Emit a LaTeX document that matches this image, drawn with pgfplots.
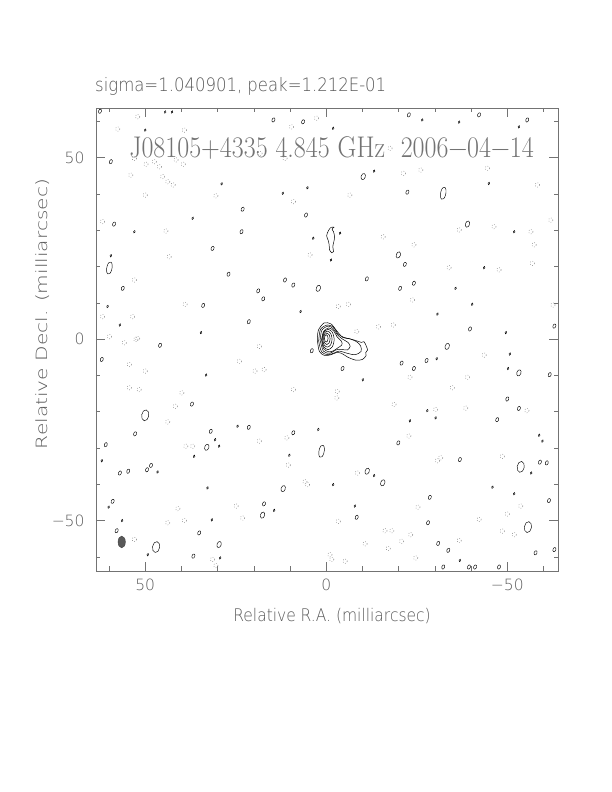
\documentclass[border=0pt]{standalone}
\usepackage{pgfplots}
\pgfplotsset{compat=1.18}
\usepackage{graphicx}
\usepackage{fontspec}
\newfontfamily\sans{DejaVu Sans ExtraLight}
\definecolor{txtgray}{rgb}{0.35,0.35,0.35}
\definecolor{ttlgray}{rgb}{0.45,0.45,0.45}
\definecolor{axgray}{rgb}{0.45,0.45,0.45}
\pgfdeclareplotmark{ell}{%
  \pgfpathellipse{\pgfpointorigin}{\pgfpoint{0.65\pgfplotmarksize}{0pt}}{\pgfpoint{0pt}{\pgfplotmarksize}}%
  \pgfusepathqstroke}
\pgfdeclareplotmark{fell}{%
  \pgfpathellipse{\pgfpointorigin}{\pgfpoint{0.62\pgfplotmarksize}{0pt}}{\pgfpoint{0pt}{\pgfplotmarksize}}%
  \pgfusepathqfillstroke}
\begin{document}
\begin{tikzpicture}
\useasboundingbox (0,0) rectangle (612pt,792pt);
\begin{axis}[
  at={(96pt,221pt)}, anchor=south west,
  scale only axis, width=462pt, height=463pt,
  x dir=reverse, xmin=-64.0, xmax=63.6, ymin=-63.9, ymax=63.7,
  xtick={-50,0,50}, xticklabels={−50,0,50},
  ytick={-50,0,50}, yticklabels={−50,0,50},
  minor xtick={-60,-40,-30,-20,-10,10,20,30,40,60},
  minor ytick={-60,-40,-30,-20,-10,10,20,30,40,60},
  major tick length=9pt, minor tick length=4.5pt,
  tick align=inside,
  axis line style={draw=axgray, line width=0.6pt},
  tick style={draw=axgray, line width=0.6pt},
  ticklabel style={font=\sans\fontsize{15.5}{18}\selectfont, text=txtgray},
  xticklabel style={yshift=-4pt},
  yticklabel style={xshift=-8pt},
  clip=true,
]
% ---- core + jet contours
\addplot[black, line width=0.5pt, smooth] coordinates {(2.45,-0.5)(2.2,2.4)(0.6,4.45)(-1.3,4.2)(-2.8,2.4)(-4.5,0.5)(-6.4,0.1)(-8.2,-0.4)(-9.7,-0.9)(-10.4,-0.7)(-11.0,-1.8)(-11.4,-3.0)(-10.9,-3.7)(-11.0,-4.5)(-10.0,-5.6)(-8.2,-5.8)(-6.0,-5.0)(-4.2,-3.9)(-2.8,-3.7)(-1.3,-4.3)(0.5,-4.5)(1.9,-3.4)(2.45,-0.5)};
\addplot[black, line width=0.5pt, smooth] coordinates {(2.1,-0.5)(1.6,2.7)(-0.3,3.9)(-2.0,3.3)(-3.2,1.5)(-4.8,0.5)(-6.8,0.0)(-8.5,-0.8)(-9.5,-1.9)(-9.6,-3.4)(-8.0,-4.3)(-5.8,-3.9)(-3.6,-3.3)(-2.2,-3.8)(-0.5,-4.3)(1.3,-3.5)(2.1,-0.5)};
\addplot[black, line width=0.5pt, smooth] coordinates {(1.7,-0.3)(1.2,2.5)(-0.6,3.6)(-2.0,2.8)(-3.0,1.3)(-4.5,0.0)(-6.0,-0.9)(-6.6,-2.0)(-5.8,-3.0)(-4.0,-2.8)(-2.6,-3.0)(-1.0,-3.9)(0.8,-3.3)(1.7,-0.3)};
\addplot[black, line width=0.5pt, smooth] coordinates {(1.3,-0.2)(0.75,2.1)(-0.7,3.1)(-2.1,2.2)(-3.0,0.6)(-4.2,-0.6)(-4.3,-1.6)(-3.2,-2.4)(-2.0,-3.2)(-0.7,-3.5)(0.75,-2.6)(1.3,-0.2)};
\addplot[black, line width=0.5pt, smooth] coordinates {(1.2,-0.1)(0.7,1.88)(-0.5,2.7)(-1.7,1.88)(-2.2,-0.1)(-1.7,-2.08)(-0.5,-2.9)(0.7,-2.08)(1.2,-0.1)};
\addplot[black, line width=0.5pt, smooth] coordinates {(1.0,0)(0.62,1.56)(-0.3,2.2)(-1.22,1.56)(-1.6,0)(-1.22,-1.56)(-0.3,-2.2)(0.62,-1.56)(1.0,0)};
\addplot[black, line width=0.5pt, smooth] coordinates {(0.75,0.1)(0.49,1.23)(-0.15,1.7)(-0.79,1.23)(-1.05,0.1)(-0.79,-1.03)(-0.15,-1.5)(0.49,-1.03)(0.75,0.1)};
\addplot[black, line width=0.5pt, smooth] coordinates {(0.5,0.2)(0.35,0.91)(0,1.2)(-0.35,0.91)(-0.5,0.2)(-0.35,-0.51)(0,-0.8)(0.35,-0.51)(0.5,0.2)};
% ---- S-shaped feature north of core
\addplot[black, line width=0.5pt, smooth] coordinates {(-2.2,30.9)(-1.3,30.8)(-0.6,29.9)(-0.1,28.5)(-0.5,27.3)(-0.8,26.0)(-0.9,24.6)(-1.5,23.8)(-2.0,24.1)(-1.8,25.5)(-2.1,26.9)(-2.3,28.2)(-2.0,29.6)(-1.6,30.3)(-2.2,30.9)};
% ---- positive noise contours
\addplot[only marks, black, line width=0.45pt, mark=ell, mark size=1.3pt, mark options={rotate=-20}] coordinates {
(50.0,57.6)(28.9,42.8)(36.9,33.3)(53.0,29.6)(59.5,23.0)(60.4,9.0)(57.0,3.9)(34.6,1.8)(44.5,62.6)(42.6,62.6)(-1.9,58.1)(-13.2,46.3)(5.2,41.7)(12.0,40.2)(-3.8,29.2)(3.6,27.8)(-1.3,21.8)(7.1,7.6)(-26.5,60.4)(-36.7,59.8)(-53.2,58.5)(-51.9,29.6)(-43.6,19.7)(-49.6,1.8)(-44.9,42.9)(-40.3,9.6)(-35.7,14.0)(-30.7,6.9)(33.2,-9.9)(24.5,-24.0)(30.7,-27.7)(29.6,-29.5)(62.0,-33.5)(36.5,-32.3)(46.6,-36.6)(32.8,-41.0)(60.1,-46.3)(56.4,-50.0)(31.6,-49.8)(29.3,-60.3)(49.3,-59.4)(-10.1,-11.2)(2.2,-24.9)(10.2,-32.0)(-13.2,-37.6)(-1.9,-40.1)(14.4,-47.2)(-7.9,-46.0)(-30.5,-5.4)(-50.7,-4.1)(-50.2,-8.1)(-27.9,-19.7)(-30.2,-21.7)(-23.1,-22.5)(-59.7,-28.1)(-58.8,-26.5)(-56.6,-36.9)(-51.9,-42.6)(-45.9,-40.8)(-36.9,-61.0)};
\addplot[only marks, black, line width=0.45pt, mark=ell, mark size=2.2pt, mark options={rotate=-20}] coordinates {
(62.5,62.8)(59.5,48.9)(23.1,35.8)(58.6,31.7)(23.4,29.6)(31.4,25.0)(27.0,17.9)(34.0,9.3)(21.4,4.8)(56.2,14.0)(14.6,60.4)(6.4,59.9)(5.6,34.2)(-21.7,20.6)(11.4,16.3)(9.1,14.9)(-11.2,16.6)(-20.4,14.0)(18.8,13.3)(17.4,11.1)(-22.8,61.8)(-42.2,61.8)(-55.5,60.4)(-22.4,40.5)(-24.2,15.4)(-39.7,2.8)(-63.0,3.6)(45.9,-1.7)(62.0,-5.6)(37.1,-17.9)(52.8,-26.1)(31.9,-25.4)(21.4,-24.3)(60.9,-29.1)(57.0,-36.9)(54.7,-36.4)(49.5,-36.0)(48.4,-34.8)(59.0,-44.7)(57.9,-52.8)(35.1,-53.4)(36.7,-59.8)(4.0,-3.2)(-4.5,-8.1)(-20.8,-6.6)(9.1,-25.8)(-19.9,-28.6)(17.2,-45.4)(-8.4,-49.1)(-27.7,-5.9)(-24.2,-8.1)(-61.7,-9.8)(-50.0,-16.5)(-53.2,-19.1)(-47.2,-22.2)(-36.9,-33.2)(-59.0,-33.9)(-60.9,-34.1)(-28.6,-43.6)(-61.5,-44.5)(-28.1,-50.6)(-30.9,-56.3)(-33.7,-58.2)(-57.8,-58.9)(-63.0,-58.0)(-32.3,-62.8)(-39.4,-62.8)(-41.1,-62.8)(-47.7,-62.8)};
\addplot[only marks, black, line width=0.45pt, mark=ell, mark size=3.2pt, mark options={rotate=-20}] coordinates {
(-10.2,44.8)(-19.9,23.2)(2.2,14.0)(-39.0,31.7)(33.0,-29.8)(29.6,-56.6)(-33.4,-2.0)(-53.2,-9.3)(-11.3,-36.4)(-15.6,-39.6)(11.9,-41.2)(17.6,-48.5)};
\addplot[only marks, black, line width=0.45pt, mark=ell, mark size=5.5pt, mark options={rotate=-10}] coordinates {
(50.0,-21.0)(47.0,-57.3)(-53.7,-35.2)(-55.7,-51.8)};
\addplot[only marks, black, line width=0.45pt, mark=ell, mark size=6.5pt, mark options={xscale=0.6, rotate=-25}] coordinates {
(59.9,19.6)(-32.3,40.2)(1.3,-30.9)};
% ---- negative (dotted) noise contours
\addplot[only marks, gray, line width=0.5pt, mark=o, mark size=2.2pt, mark options={dash pattern=on 0.7pt off 1.8pt}] coordinates {
(52.1,61.3)(57.6,57.9)(39.2,57.6)(53.0,49.8)(47.5,48.9)(46.1,47.5)(45.2,44.8)(43.8,43.4)(49.8,48.2)(41.5,49.4)(39.5,48.2)(54.0,45.2)(42.3,42.5)(50.0,39.7)(30.5,39.5)(61.8,32.4)(44.3,29.8)(43.4,22.7)(53.0,16.3)(39.0,9.6)(61.8,6.2)(53.5,6.2)(59.9,0.7)(52.1,0.2)(2.7,60.9)(9.6,58.5)(18.3,51.2)(11.4,49.8)(9.1,37.9)(-6.5,39.7)(-21.3,45.7)(4.5,23.2)(-15.7,28.2)(-3.3,9.0)(-6.1,9.6)(-8.4,2.1)(-14.4,3.4)(-18.5,3.9)(-17.6,52.6)(-26.1,46.6)(-44.5,47.1)(-58.3,42.5)(-62.0,32.8)(-36.7,30.1)(-46.3,31.0)(-24.2,26.0)(-57.4,26.0)(-33.9,19.7)(-56.9,20.9)(-23.8,10.8)(-47.7,19.1)(-62.6,9.4)(-56.5,29.6)(52.6,-0.1)(55.8,-1.0)(54.4,-7.0)(50.0,-8.8)(24.0,-6.1)(54.4,-13.4)(51.7,-13.9)(39.9,-14.8)(41.7,-18.5)(43.8,-22.8)(38.8,-29.5)(36.9,-29.5)(24.9,-46.0)(23.1,-49.3)(41.0,-46.7)(43.8,-50.6)(39.2,-50.0)(53.0,-55.2)(31.4,-60.7)(30.5,-62.4)(18.5,-2.0)(19.7,-8.8)(17.2,-8.4)(9.1,-13.9)(-3.0,-14.4)(-2.9,-16.2)(-18.7,-18.0)(18.5,-28.1)(10.9,-27.2)(10.5,-34.7)(5.9,-39.3)(5.2,-40.1)(-8.6,-36.9)(-3.3,-50.2)(-16.2,-52.8)(-18.1,-52.8)(-20.8,-55.7)(-10.7,-56.4)(-1.0,-59.4)(-1.5,-60.7)(-5.2,-61.2)(-17.1,-57.7)(-43.6,-4.4)(-23.1,-10.5)(-39.0,-10.5)(-34.8,-13.4)(-38.5,-19.0)(-30.2,-19.4)(-55.4,-19.7)(-22.8,-26.7)(-30.7,-33.5)(-31.6,-32.7)(-48.6,-32.3)(-25.3,-46.3)(-53.7,-46.0)(-50.0,-48.2)(-42.2,-49.7)(-48.6,-52.9)(-23.3,-53.9)(-36.7,-55.5)(-24.7,-60.3)(-51.9,-53.9)};
% ---- beam
\addplot[only marks, draw=black!75, fill=black!65, line width=0.4pt, mark=fell, mark size=5.9pt] coordinates {(56.5,-55.9)};
\end{axis}
\node[anchor=base west, inner sep=0pt, text=txtgray] at (95pt,700pt) {\scalebox{1}[1.12]{\sans\fontsize{16.5}{18}\selectfont sigma=1.040901, peak=1.212E-01}};
\node[anchor=base, inner sep=0pt, text=ttlgray] at (331.5pt,634pt) {\scalebox{1}[1.15]{\fontsize{26}{30}\selectfont J08105+4335 4.845 GHz\ \ 2006−04−14}};
\node[anchor=base, inner sep=0pt, text=txtgray] at (332pt,170pt) {\scalebox{1}[1.12]{\sans\fontsize{15.5}{18}\selectfont Relative R.A. (milliarcsec)}};
\node[anchor=base, rotate=90, inner sep=0pt, text=txtgray] at (47pt,478pt) {\scalebox{1.3}[1]{\sans\fontsize{15.5}{18}\selectfont Relative Decl. (milliarcsec)}};
\end{tikzpicture}
\end{document}
